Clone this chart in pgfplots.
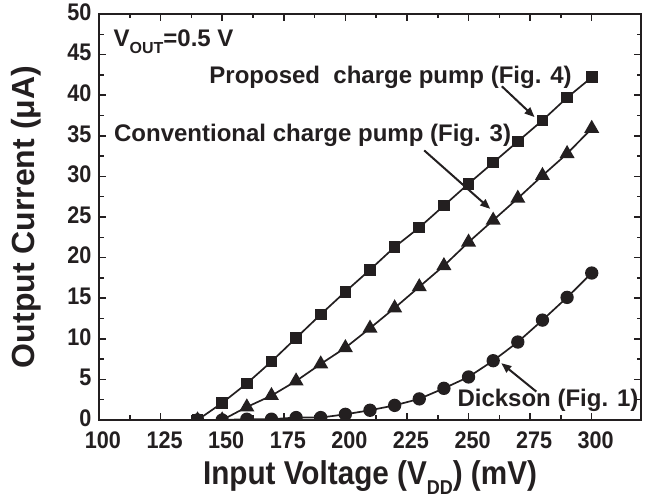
\documentclass[border=0pt]{standalone}
\usepackage{fontspec}
\setmainfont{Liberation Sans}
\newfontfamily\narrowfont{Liberation Sans}[FakeStretch=0.9]
\usepackage{pgfplots}
\pgfplotsset{compat=1.18}
\usetikzlibrary{arrows.meta}
\definecolor{ink}{RGB}{35,31,32}

\begin{document}
\begin{tikzpicture}
\useasboundingbox (-99pt,-82pt) rectangle (548pt,420pt);
\begin{axis}[
    at={(0,0)}, anchor=south west,
    width=542pt, height=406pt, scale only axis,
    xmin=100, xmax=320, ymin=0, ymax=50,
    xtick={100,125,...,300},
    ytick={0,5,...,50},
    minor x tick num=1, minor y tick num=1,
    tick pos=both, tick align=inside,
    major tick length=7pt, minor tick length=4.5pt,
    axis line style={line width=2.4pt, ink},
    every tick/.style={ink, line width=1.5pt},
    /pgf/number format/assume math mode=true,
    tick label style={font=\narrowfont\fontsize{24}{27}\selectfont\bfseries, text=ink},
    xticklabel style={yshift=-8pt, xshift=4pt},
    yticklabel style={xshift=-4pt, yshift=2pt},
    ylabel={Output Current (μA)},
    ylabel style={at={(axis description cs:-0.135,0.5)}, anchor=center,
        font=\fontsize{32}{36}\selectfont\bfseries, text=ink},
    xlabel={Input Voltage (V\raisebox{-0.3em}{\fontsize{20}{20}\selectfont DD}) (mV)},
    xlabel style={at={(axis description cs:0.5,-0.16)}, anchor=base,
        font=\narrowfont\fontsize{33}{38}\selectfont\bfseries, text=ink},
    clip marker paths=true,
]

% Proposed charge pump (Fig. 4)
\addplot[ink, line width=1.7pt, mark=square*, mark size=5pt,
    mark options={solid, fill=ink}] coordinates {
    (140,0) (150,2.1) (160,4.5) (170,7.2) (180,10.1) (190,13.0) (200,15.8)
    (210,18.5) (220,21.3) (230,23.7) (240,26.4) (250,29.1) (260,31.7)
    (270,34.3) (280,36.9) (290,39.7) (300,42.2)
};

% Conventional charge pump (Fig. 3)
\addplot[ink, line width=1.7pt, mark=triangle*, mark size=7pt,
    mark options={solid, fill=ink}] coordinates {
    (140,0) (150,0) (160,1.6) (170,3.0) (180,4.8) (190,6.9) (200,8.9)
    (210,11.3) (220,13.8) (230,16.4) (240,19.0) (250,21.9) (260,24.6)
    (270,27.3) (280,30.1) (290,32.8) (300,35.9)
};

% Dickson (Fig. 1)
\addplot[ink, line width=1.7pt, mark=*, mark size=5.8pt,
    mark options={solid, fill=ink}] coordinates {
    (140,0) (150,0) (160,0.1) (170,0.1) (180,0.3) (190,0.3) (200,0.7)
    (210,1.2) (220,1.8) (230,2.6) (240,3.9) (250,5.3) (260,7.3)
    (270,9.6) (280,12.3) (290,15.1) (300,18.1)
};

\node[anchor=west, text=ink, font=\fontsize{24}{28}\selectfont\bfseries]
    at (axis cs:104.5,46.6) {V\raisebox{-0.3em}{\fontsize{16}{16}\selectfont OUT}=0.5 V};
\node[anchor=west, text=ink, font=\fontsize{24}{28}\selectfont\bfseries]
    at (axis cs:143.4,42.2) {Proposed\ \ charge pump (Fig. 4)};
\node[anchor=west, text=ink, font=\fontsize{24}{28}\selectfont\bfseries]
    at (axis cs:104.7,35.0) {Conventional charge pump (Fig. 3)};
\node[anchor=west, text=ink, font=\fontsize{24}{28}\selectfont\bfseries]
    at (axis cs:244.1,2.4) {Dickson (Fig. 1)};

\draw[ink, line width=2pt, -{Triangle[length=10pt, width=8pt]}]
    (axis cs:263.5,41.1) -- (axis cs:276.8,37.3);
\draw[ink, line width=2pt, -{Triangle[length=10pt, width=8pt]}]
    (axis cs:232,33.2) -- (axis cs:258.8,26.0);
\draw[ink, line width=2pt, -{Triangle[length=10pt, width=8pt]}]
    (axis cs:277.5,3.5) -- (axis cs:263.3,7.0);

\end{axis}
\end{tikzpicture}
\end{document}
